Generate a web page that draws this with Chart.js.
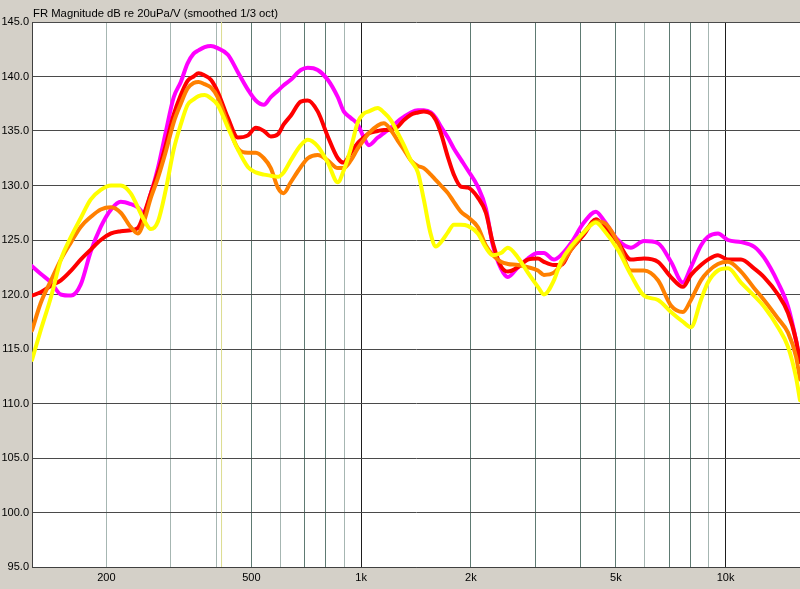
<!DOCTYPE html>
<html>
<head>
<meta charset="utf-8">
<script src="https://cdn.jsdelivr.net/npm/chart.js@4"></script>
<style>
  html, body { margin: 0; padding: 0; background: #d4d0c8; }
</style>
</head>
<body>
<canvas id="fr" width="800" height="589"></canvas>
<script>
// === Data ===
const TITLE = 'FR Magnitude dB re 20uPa/V (smoothed 1/3 oct)';

const freqs = [125, 132, 141, 150, 160, 170, 181, 193, 206, 219,
  233, 244, 253, 265, 277, 291, 306, 320, 334, 347,
  358, 372, 387, 404, 431, 459, 489, 514, 541, 565,
  591, 613, 641, 683, 714, 760, 810, 863, 896, 937,
  979, 1017, 1050, 1111, 1154, 1206, 1261, 1310, 1369, 1431,
  1486, 1553, 1603, 1655, 1730, 1796, 1877, 1962, 2090, 2199,
  2299, 2418, 2527, 2692, 2867, 3055, 3173, 3380, 3532, 3763,
  4085, 4407, 4636, 5064, 5498, 5971, 6524, 7080, 7636, 8034,
  8557, 8944, 9529, 10151, 11021, 11963, 12745, 13923, 14836, 15605,
  16000];

const magenta = [122.6, 121.9, 121.1, 120.0, 119.9, 120.9, 123.9, 126.2, 127.8, 128.5,
  128.3, 128.0, 127.5, 129.3, 131.6, 134.9, 138.1, 139.5, 141.2, 142.1,
  142.4, 142.7, 142.8, 142.6, 142.0, 140.4, 138.8, 137.8, 137.4, 138.1,
  138.7, 139.2, 139.7, 140.6, 140.8, 140.6, 139.7, 138.1, 136.8, 136.2,
  135.6, 134.4, 133.7, 134.4, 134.8, 135.3, 135.9, 136.3, 136.7, 136.9,
  136.9, 136.7, 136.2, 135.4, 134.4, 133.4, 132.4, 131.4, 129.9, 127.9,
  124.5, 122.4, 121.6, 122.5, 123.3, 123.8, 123.8, 123.2, 123.6, 124.7,
  126.6, 127.6, 126.8, 125.0, 124.3, 124.9, 124.7, 123.0, 121.1, 122.5,
  124.5, 125.3, 125.6, 125.0, 124.8, 124.4, 123.4, 121.1, 118.9, 115.8,
  113.8];

const red = [119.9, 120.2, 120.8, 121.3, 122.2, 123.2, 124.1, 125.0, 125.6, 125.8,
  125.9, 126.1, 127.3, 129.3, 131.2, 133.7, 136.5, 138.3, 139.6, 140.0,
  140.3, 140.1, 139.7, 138.6, 136.2, 134.4, 134.6, 135.3, 135.0, 134.5,
  134.7, 135.6, 136.4, 137.7, 137.8, 136.8, 134.5, 132.5, 132.1, 133.0,
  133.9, 134.4, 134.8, 135.0, 135.1, 135.1, 135.4, 136.0, 136.5, 136.7,
  136.8, 136.6, 136.0, 134.8, 132.6, 131.0, 129.9, 129.8, 128.9, 127.5,
  124.7, 122.6, 122.1, 122.5, 123.2, 123.3, 123.0, 122.7, 122.7, 124.1,
  125.5, 126.9, 126.2, 124.8, 123.2, 123.3, 123.0, 121.6, 120.7, 121.8,
  122.7, 123.2, 123.6, 123.2, 123.2, 122.4, 121.6, 120.0, 118.3, 115.8,
  113.8];

const orange = [116.7, 119.2, 121.3, 123.2, 124.8, 126.2, 127.1, 127.8, 128.0, 127.5,
  126.2, 125.6, 126.6, 128.9, 130.7, 133.1, 135.8, 137.5, 138.9, 139.4,
  139.5, 139.3, 139.0, 138.1, 135.6, 133.4, 133.0, 133.0, 132.5, 131.6,
  129.8, 129.3, 130.3, 131.7, 132.5, 132.8, 132.3, 131.6, 131.6, 132.3,
  133.4, 134.2, 134.8, 135.5, 135.7, 135.1, 134.1, 133.3, 132.3, 131.8,
  131.6, 131.0, 130.5, 130.0, 129.3, 128.5, 127.6, 127.1, 126.2, 124.5,
  123.6, 123.0, 122.8, 122.7, 122.5, 122.2, 121.8, 122.0, 122.7, 124.1,
  125.7, 126.7, 126.6, 124.8, 122.2, 122.2, 121.3, 119.0, 118.4, 119.5,
  121.3, 122.1, 122.8, 123.0, 122.1, 120.6, 119.5, 117.8, 116.5, 114.3,
  112.2];

const yellow = [114.0, 116.7, 119.8, 123.2, 125.3, 127.0, 128.7, 129.6, 130.0, 130.0,
  129.3, 128.0, 126.9, 126.0, 126.7, 129.6, 133.3, 135.6, 137.4, 137.9,
  138.2, 138.3, 138.0, 137.4, 135.3, 133.3, 131.7, 131.2, 131.0, 130.9,
  130.8, 131.2, 132.3, 133.7, 134.2, 133.6, 132.1, 130.3, 131.4, 133.4,
  135.8, 136.6, 136.8, 137.1, 136.7, 136.0, 134.8, 133.7, 132.3, 131.2,
  128.7, 125.5, 124.4, 124.8, 125.7, 126.4, 126.4, 126.3, 125.6, 124.3,
  123.6, 123.8, 124.3, 123.4, 122.0, 120.7, 120.0, 121.3, 123.0, 124.4,
  125.7, 126.6, 125.9, 124.1, 121.8, 119.9, 119.5, 118.4, 117.5, 117.0,
  119.5, 121.1, 122.2, 122.4, 121.1, 119.9, 118.9, 117.0, 115.2, 112.4,
  110.3];

// grid lines on the frequency axis and the ones that get a label
const gridFreqs = [200, 300, 400, 500, 600, 700, 800, 900, 1000,
  2000, 3000, 4000, 5000, 6000, 7000, 8000, 9000, 10000];
const freqLabels = { 200: '200', 500: '500', 1000: '1k', 2000: '2k', 5000: '5k', 10000: '10k' };
const paleGrid = [200, 300, 400, 600, 900, 6000, 9000];
const cursorFreq = 414;

// === Helpers ===
const FONT = '"Liberation Sans", Arial, sans-serif';
const pts = (vals) => freqs.map((f, i) => ({ x: f, y: vals[i] }));

function curve(data, color) {
  return { data: pts(data), borderColor: color, borderWidth: 4, pointRadius: 0,
    tension: 0.35, cubicInterpolationMode: 'monotone', borderJoinStyle: 'round', borderCapStyle: 'round' };
}

const plotBg = {
  id: 'plotBg',
  beforeDraw(chart) {
    const { ctx, chartArea: a } = chart;
    ctx.save();
    ctx.fillStyle = '#d4d0c8';
    ctx.fillRect(0, 0, chart.width, chart.height);
    ctx.fillStyle = '#ffffff';
    ctx.fillRect(a.left, a.top, a.right - a.left, a.bottom - a.top);
    ctx.restore();
  },
  afterDraw(chart) {
    const { ctx, chartArea: a } = chart;
    ctx.save();
    ctx.font = '11.3px ' + FONT;
    ctx.fillStyle = '#000';
    ctx.textBaseline = 'middle';
    ctx.fillText(TITLE, a.left + 1, 14);
    ctx.restore();
  }
};

// === Chart ===
new Chart(document.getElementById('fr'), {
  type: 'line',
  data: {
    datasets: [
      curve(yellow, '#ffff00'),
      curve(orange, '#ff8000'),
      curve(red, '#ff0000'),
      curve(magenta, '#ff00ff'),
      { data: [{ x: cursorFreq, y: 95 }, { x: cursorFreq, y: 145 }],
        borderColor: '#dcdc90', borderWidth: 1, pointRadius: 0 }
    ]
  },
  options: {
    responsive: false,
    animation: false,
    layout: { padding: { top: 22, left: 0, right: 0, bottom: 0 } },
    plugins: { legend: { display: false }, tooltip: { enabled: false } },
    scales: {
      x: {
        type: 'logarithmic',
        min: 125,
        max: 16000,
        afterBuildTicks: (scale) => { scale.ticks = gridFreqs.map(v => ({ value: v })); },
        afterFit: (scale) => { scale.height = 22; },
        ticks: {
          autoSkip: false, maxRotation: 0, padding: 4, color: '#000',
          font: { family: FONT, size: 11 },
          callback: (v) => freqLabels[v] || ''
        },
        grid: {
          drawTicks: false,
          color: (c) => {
            const v = c.tick && c.tick.value;
            if (v === 1000 || v === 10000) return '#1e1e1e';
            return paleGrid.includes(v) ? '#a6b6b2' : '#5e7a72';
          }
        },
        border: { color: '#404040' }
      },
      y: {
        min: 95,
        max: 145,
        afterFit: (scale) => { scale.width = 32; },
        ticks: {
          stepSize: 5, padding: 3, color: '#000',
          font: { family: FONT, size: 11 },
          callback: (v) => v.toFixed(1)
        },
        grid: { drawTicks: false, color: '#4a4a4a' },
        border: { color: '#404040' }
      }
    }
  },
  plugins: [plotBg]
});
</script>
</body>
</html>
